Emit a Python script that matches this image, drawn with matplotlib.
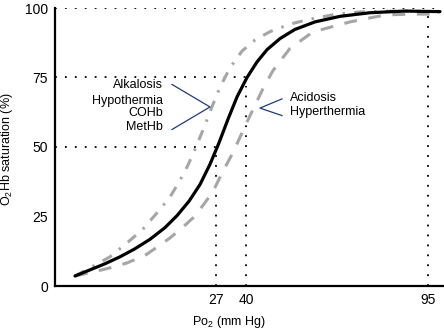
import matplotlib
matplotlib.use("Agg")
import matplotlib.pyplot as plt

plt.rcParams['font.family'] = ['Liberation Sans', 'DejaVu Sans']
plt.rcParams['mathtext.fontset'] = 'custom'
plt.rcParams['mathtext.rm'] = 'Liberation Sans'
plt.rcParams['mathtext.it'] = 'Liberation Sans:italic'
plt.rcParams['mathtext.bf'] = 'Liberation Sans:bold'

# schematic x positions (axis units), y = O2Hb saturation (%)
normal_x = [20, 35, 50, 65, 80, 95, 110, 122, 134, 145, 155, 164, 173, 182, 192, 202, 212, 225, 240, 260, 285, 315, 350, 385]
normal_y = [3.6, 5.8, 8.0, 10.5, 13.4, 16.8, 21, 25.3, 30.5, 36.5, 43.8, 51.5, 60, 68, 75, 80.6, 85, 89, 92.3, 95, 97, 98.3, 98.9, 98.7]

left_x = [20, 35, 55, 73, 87, 102, 115, 125, 133, 141, 149, 157, 165, 175, 187, 200, 215, 235, 255, 280, 305, 340, 385]
left_y = [3.6, 6.5, 10.5, 15.8, 20.1, 26.3, 32, 38, 43.5, 50, 57, 64.5, 71.5, 78.5, 84.5, 88.5, 91.5, 94.2, 96, 97.7, 98.6, 98.9, 98.6]

right_x = [20, 40, 58, 72, 90, 105, 115, 128, 138, 148, 158, 167, 178, 185, 192, 200, 208, 218, 235, 258, 295, 330, 355, 382]
right_y = [3.6, 5.2, 6.8, 8.3, 11, 14.7, 17.3, 21.2, 24.5, 29, 34, 40.6, 48, 53.5, 59, 65, 71, 77.5, 85.5, 91.4, 95, 97.5, 97.8, 97.8]

xtick_pos = [161, 191, 373]
xtick_labels = ['27', '40', '95']
yticks = [0, 25, 50, 75, 100]

# reference guide lines: horizontal level, x end ; vertical x, top
h_levels = [50, 75, 100]
h_ends = [161, 191, 385]
v_pos = [161, 191, 373]
v_tops = [50, 72, 97]

left_labels = ['Alkalosis', 'Hypothermia', 'COHb', 'MetHb']
left_label_y = [72.3, 66.5, 62.2, 57.2]
right_labels = ['Acidosis', 'Hyperthermia']
right_label_y = [67.6, 62.6]

fig = plt.figure(figsize=(4.44, 3.32), dpi=100)
ax = fig.add_axes([55/444, 1-286/332, 1-55/444, (286-8)/332])
ax.set_xlim(0, 389)
ax.set_ylim(0, 100)

dot = dict(color='black', lw=1.3, linestyle=(0, (1, 4.5)), zorder=1)
for lev, xe in zip(h_levels, h_ends):
    ax.plot([0, xe], [lev, lev], **dot)
for xp, top in zip(v_pos, v_tops):
    ax.plot([xp, xp], [0, top], **dot)

ax.plot(left_x, left_y, color='#a6a6a6', lw=2.2, linestyle=(0, (3.5, 3, 0.8, 3)), zorder=2)
ax.plot(right_x, right_y, color='#a6a6a6', lw=2.2, linestyle=(0, (4.2, 3.8)), zorder=2)
ax.plot(normal_x, normal_y, color='black', lw=2.3, zorder=3, solid_capstyle='round')

for s in ['top', 'right']:
    ax.spines[s].set_visible(False)
for s in ['left', 'bottom']:
    ax.spines[s].set_linewidth(1.6)

ax.set_xticks(xtick_pos)
ax.set_xticklabels(xtick_labels)
ax.set_yticks(yticks)
ax.tick_params(length=0, labelsize=10, pad=5)

fig.text(7/444, 1-149/332, 'O$_2$Hb saturation (%)', rotation=90, ha='center', va='center', fontsize=9)
fig.text(229/444, 1-322/332, 'Po$_2$ (mm Hg)', ha='center', va='center', fontsize=9)

navy = '#1f3b7a'
for lab, yy in zip(left_labels, left_label_y):
    ax.text(108, yy, lab, ha='right', va='center', fontsize=9)
ax.plot([117, 155, 117], [72.5, 64.4, 56.3], color=navy, lw=0.9, zorder=4)
for lab, yy in zip(right_labels, right_label_y):
    ax.text(235, yy, lab, ha='left', va='center', fontsize=9)
ax.plot([227, 205, 227], [67.3, 64.0, 61.3], color=navy, lw=0.9, zorder=4)

fig.savefig('out.png', dpi=100)
